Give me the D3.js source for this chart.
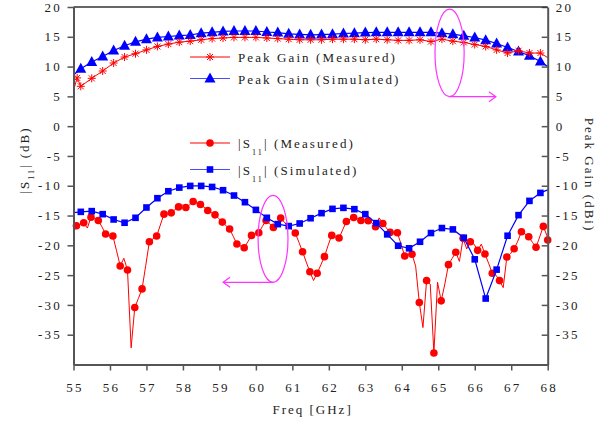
<!DOCTYPE html>
<html>
<head>
<meta charset="utf-8">
<script src="https://cdn.jsdelivr.net/npm/d3@7"></script>
<style>
  body { margin: 0; background: #fff; }
  text { font-family: "Liberation Serif", "Times New Roman", serif; fill: #222; }
</style>
</head>
<body>
<div id="chart"></div>
<script>
// axis ticks
const xTicks = [55, 56, 57, 58, 59, 60, 61, 62, 63, 64, 65, 66, 67, 68];
const yTicks = [20, 15, 10, 5, 0, -5, -10, -15, -20, -25, -30, -35];

// Peak gain, simulated (triangles)
const gainSimFreq = [55.0, 55.2, 55.5, 55.8, 56.1, 56.4, 56.7, 57.0, 57.3, 57.6, 57.9,
  58.2, 58.5, 58.8, 59.1, 59.4, 59.7, 60.0, 60.3, 60.6, 60.9, 61.2, 61.5, 61.8,
  62.1, 62.4, 62.7, 63.0, 63.3, 63.6, 63.9, 64.2, 64.5, 64.8, 65.1, 65.4, 65.7,
  66.0, 66.3, 66.6, 66.9, 67.2, 67.5, 67.8, 68.0];
const gainSim = [8.6, 9.65, 10.77, 11.7, 12.7, 13.5, 14.16, 14.6, 14.9, 15.05, 15.2,
  15.3, 15.6, 15.75, 15.9, 15.97, 15.97, 15.97, 15.8, 15.7, 15.5, 15.4, 15.33, 15.38,
  15.44, 15.55, 15.6, 15.7, 15.75, 15.75, 15.75, 15.75, 15.75, 15.75, 15.6, 15.44, 15.16,
  14.88, 14.44, 13.88, 13.2, 12.54, 11.82, 10.87, 10.0];

// Peak gain, measured (asterisks)
const gainMeasFreq = [55.0, 55.1, 55.2, 55.5, 55.8, 56.1, 56.4, 56.7, 57.0, 57.3, 57.6, 57.9,
  58.2, 58.5, 58.8, 59.1, 59.4, 59.7, 60.0, 60.3, 60.6, 60.9, 61.2, 61.5, 61.8,
  62.1, 62.4, 62.7, 63.0, 63.3, 63.6, 63.9, 64.2, 64.5, 64.8, 65.1, 65.4, 65.7,
  66.0, 66.3, 66.6, 66.9, 67.2, 67.5, 67.8, 68.0];
const gainMeas = [6.0, 8.1, 6.69, 8.03, 9.26, 10.6, 11.6, 12.16, 12.8, 13.38, 13.77, 14.1,
  14.27, 14.5, 14.7, 14.8, 14.9, 14.9, 14.9, 14.8, 14.7, 14.6, 14.5, 14.5, 14.5,
  14.6, 14.6, 14.6, 14.5, 14.6, 14.5, 14.4, 14.4, 14.5, 14.2, 14.6, 14.27, 14.05,
  13.7, 13.38, 12.8, 12.27, 12.66, 12.27, 12.27, 11.5];

// |S11| simulated (squares)
const s11SimFreq = gainSimFreq;
const s11Sim = [-14.5, -14.38, -14.26, -14.77, -15.66, -16.21, -15.38, -13.65, -12.09, -10.92, -10.31,
  -10.03, -10.03, -10.2, -10.75, -11.64, -12.76, -14.05, -15.38, -16.44, -16.77, -16.33, -15.45, -14.6,
  -13.88, -13.71, -13.93, -14.77, -16.27, -18.16, -20.07, -20.5, -19.4, -17.94, -17.1, -17.33, -18.72,
  -22.35, -28.93, -24.08, -18.39, -14.93, -12.54, -11.2, -10.7];

// |S11| measured: points with circles
const s11MeasMarkFreq = [55.08, 55.28, 55.48, 55.68, 55.88, 56.08, 56.28, 56.48, 56.68, 56.88,
  57.08, 57.28, 57.48, 57.68, 57.88, 58.08, 58.28, 58.48, 58.68, 58.88,
  59.08, 59.28, 59.48, 59.68, 59.88, 60.08, 60.28, 60.48, 60.68,
  61.08, 61.28, 61.48, 61.68, 61.88, 62.08, 62.28, 62.48, 62.68, 62.88,
  63.08, 63.28, 63.48, 63.68, 63.88, 64.08, 64.28, 64.48, 64.68, 64.88,
  65.08, 65.28, 65.48, 65.68, 65.88, 66.08, 66.28, 66.48, 66.68, 66.88,
  67.08, 67.28, 67.48, 67.68, 67.88, 68.0];
const s11MeasMark = [-16.72, -16.22, -15.27, -15.82, -18.11, -18.44, -23.46, -24.13, -30.43, -27.31,
  -19.4, -18.44, -14.77, -14.55, -13.55, -13.65, -12.65, -13.14, -14.15, -14.88,
  -16.1, -17.27, -19.78, -20.4, -18.33, -17.89, -15.82, -16.99, -15.43,
  -17.94, -21.07, -24.43, -24.68, -21.9, -18.33, -18.78, -15.99, -15.32, -15.82,
  -15.88, -16.89, -16.33, -17.83, -17.89, -21.79, -21.5, -29.6, -25.92, -38.06,
  -29.32, -23.24, -21.17, -18.83, -19.4, -20.84, -21.45, -24.68, -25.92, -21.96,
  -20.57, -17.73, -18.56, -20.33, -16.82, -19.1];
// |S11| measured: in-between points of the trace (no marker)
const s11MeasLineFreq = [55.0, 55.18, 55.38, 55.58, 55.78, 55.98, 56.18, 56.38, 56.58, 56.78, 56.98,
  57.18, 57.38, 57.58, 57.78, 57.98, 58.18, 58.38, 58.58, 58.78, 58.98,
  59.18, 59.38, 59.58, 59.78, 59.98, 60.18, 60.38, 60.58, 60.78, 60.88, 60.98,
  61.18, 61.38, 61.58, 61.78, 61.98, 62.18, 62.38, 62.58, 62.78, 62.98,
  63.18, 63.38, 63.58, 63.78, 63.98, 64.18, 64.38, 64.58, 64.78, 64.98,
  65.18, 65.38, 65.58, 65.78, 65.98, 66.18, 66.38, 66.58, 66.78, 66.98,
  67.18, 67.38, 67.58, 67.78, 67.98];
const s11MeasLine = [-17.8, -16.5, -17.1, -15.5, -16.9, -18.3, -20.9, -22.18, -37.2, -28.9, -23.4,
  -18.9, -16.6, -14.6, -14.0, -13.2, -13.2, -12.9, -13.6, -14.5, -15.5,
  -16.7, -18.5, -20.1, -19.4, -18.1, -16.8, -16.4, -16.2, -16.1, -16.8, -17.3,
  -19.5, -22.8, -25.9, -23.3, -20.0, -18.6, -17.4, -15.6, -15.5, -15.7,
  -16.2, -15.4, -17.1, -17.9, -19.8, -21.6, -23.5, -33.8, -26.5, -26.2,
  -26.5, -22.2, -22.7, -20.6, -19.8, -19.8, -23.0, -25.0, -27.1, -21.4,
  -19.3, -18.1, -19.5, -18.6, -18.4];

const margin = { top: 7, right: 63.3, bottom: 59.5, left: 73.5 };
const width = 611 - margin.left - margin.right;
const height = 424 - margin.top - margin.bottom;

const RED = "#ff0000";
const BLUE = "#0000ff";
const MAGENTA = "#ff33ff";

const svg = d3.select("#chart")
  .append("svg")
  .attr("width", 611)
  .attr("height", 424)
  .append("g")
  .attr("transform", `translate(${margin.left},${margin.top})`);

const xScale = d3.scaleLinear().domain([55, 68]).range([0, width]);
const yScale = d3.scaleLinear().domain([-40, 20]).range([height, 0]);

const zip = (fs, vs) => fs.map((f, i) => ({ f, v: vs[i] }));
const gainSimData = zip(gainSimFreq, gainSim);
const gainMeasData = zip(gainMeasFreq, gainMeas);
const s11SimData = zip(s11SimFreq, s11Sim);
const s11MeasMarks = zip(s11MeasMarkFreq, s11MeasMark);
const s11MeasData = s11MeasMarks.concat(zip(s11MeasLineFreq, s11MeasLine))
  .sort((a, b) => a.f - b.f);
// edge points only carry the trace to the axes
const inner = (d) => d.f > 55.05 && d.f < 67.95;

const line = d3.line().x((d) => xScale(d.f)).y((d) => yScale(d.v));

function drawLine(data, color, w) {
  svg.append("path")
    .datum(data)
    .attr("fill", "none")
    .attr("stroke", color)
    .attr("stroke-width", w)
    .attr("d", line);
}

const triPath = "M0,-6L5.5,4L-5.5,4Z";
const starPath = "M-4,0L4,0M0,-4L0,4M-3,-3L3,3M-3,3L3,-3";

function drawTriangles(g, data) {
  g.selectAll(null).data(data).enter().append("path")
    .attr("d", triPath)
    .attr("fill", BLUE)
    .attr("transform", (d) => `translate(${xScale(d.f)},${yScale(d.v)})`);
}
function drawStars(g, data) {
  g.selectAll(null).data(data).enter().append("path")
    .attr("d", starPath)
    .attr("stroke", RED)
    .attr("stroke-width", 1)
    .attr("fill", "none")
    .attr("transform", (d) => `translate(${xScale(d.f)},${yScale(d.v)})`);
}

// peak gain
drawLine(gainSimData, BLUE, 1.2);
drawTriangles(svg.append("g"), gainSimData.filter(inner));
drawLine(gainMeasData, RED, 1);
drawStars(svg.append("g"), gainMeasData.filter(inner));

// |S11|
drawLine(s11MeasData, RED, 1);
svg.append("g").selectAll("circle")
  .data(s11MeasMarks)
  .enter()
  .append("circle")
  .attr("cx", (d) => xScale(d.f))
  .attr("cy", (d) => yScale(d.v))
  .attr("r", 3.8)
  .attr("fill", RED);

drawLine(s11SimData, BLUE, 1.2);
svg.append("g").selectAll("rect")
  .data(s11SimData.filter(inner))
  .enter()
  .append("rect")
  .attr("x", (d) => xScale(d.f) - 3.3)
  .attr("y", (d) => yScale(d.v) - 3.3)
  .attr("width", 6.6)
  .attr("height", 6.6)
  .attr("fill", BLUE);

// annotations (ellipse + arrow), in data units
const notes = [
  { cf: 65.31, cv: 12.3, rf: 0.4, rv: 7.35, toF: 66.58, dir: 1 },
  { cf: 60.47, cv: -18.9, rf: 0.41, rv: 7.3, toF: 59.1, dir: -1 },
];
notes.forEach((n) => {
  const cx = xScale(n.cf), cy = yScale(n.cv);
  const rx = xScale(n.cf + n.rf) - cx, ry = yScale(n.cv - n.rv) - cy;
  svg.append("ellipse")
    .attr("cx", cx).attr("cy", cy).attr("rx", rx).attr("ry", ry)
    .attr("fill", "none").attr("stroke", MAGENTA).attr("stroke-width", 1.2);
  const by = cy + ry;
  const tx = xScale(n.toF);
  svg.append("path")
    .attr("d", `M${cx},${by}L${tx},${by}M${tx - n.dir * 7},${by - 5}L${tx},${by}L${tx - n.dir * 7},${by + 5}`)
    .attr("fill", "none").attr("stroke", MAGENTA).attr("stroke-width", 1.2);
});

// axes
const fmt = (d) => String(d);
const styleAxis = (g) => {
  g.select(".domain").attr("stroke", "#555").attr("stroke-width", 2);
  g.selectAll(".tick line").attr("stroke", "#555").attr("stroke-width", 1.5);
  g.selectAll("text")
    .style("font-family", '"Liberation Serif", serif')
    .style("font-size", "13px")
    .style("letter-spacing", "2.2px")
    .attr("fill", "#222");
};

svg.append("g")
  .attr("transform", `translate(0,${height})`)
  .call(d3.axisBottom(xScale).tickValues(xTicks).tickFormat(fmt).tickSize(6).tickSizeOuter(0))
  .call(styleAxis)
  .selectAll("text")
  .attr("y", 27)
  .attr("dy", 0)
  .attr("dx", 1);

svg.append("g")
  .call(d3.axisLeft(yScale).tickValues(yTicks).tickFormat(fmt).tickSize(6).tickSizeOuter(0))
  .call(styleAxis)
  .selectAll("text")
  .attr("x", -11.5);

svg.append("g")
  .attr("transform", `translate(${width},0)`)
  .call(d3.axisRight(yScale).tickValues(yTicks).tickFormat(fmt).tickSize(-6).tickSizeOuter(0))
  .call(styleAxis)
  .selectAll("text")
  .attr("x", 8);

svg.append("line")
  .attr("x1", 0).attr("x2", width).attr("y1", 0).attr("y2", 0)
  .attr("stroke", "#333").attr("stroke-width", 1.3);

// axis titles
svg.append("text")
  .attr("x", width / 2 + 2)
  .attr("y", height + 49)
  .attr("text-anchor", "middle")
  .style("font-size", "13px")
  .style("letter-spacing", "2px")
  .text("Freq [GHz]");

const yLab = svg.append("text")
  .attr("transform", `translate(${29 - margin.left},${160 - margin.top}) rotate(-90)`)
  .attr("text-anchor", "middle")
  .style("font-size", "13px")
  .style("letter-spacing", "2px");
yLab.append("tspan").text("|S");
yLab.append("tspan").attr("dy", 5).style("font-size", "8px").text("11");
yLab.append("tspan").attr("dy", -5).text("| (dB)");

svg.append("text")
  .attr("transform", `translate(${585 - margin.left},${175 - margin.top}) rotate(90)`)
  .attr("text-anchor", "middle")
  .style("font-size", "13px")
  .style("letter-spacing", "2px")
  .text("Peak Gain (dBi)");

// legends
const legendItems = [
  { y: 57, color: RED, mark: "star", label: ["Peak Gain (Measured)"] },
  { y: 78.5, color: BLUE, mark: "tri", label: ["Peak Gain (Simulated)"] },
  { y: 143, color: RED, mark: "circle", label: ["|S", "11", "| (Measured)"] },
  { y: 169.5, color: BLUE, mark: "square", label: ["|S", "11", "| (Simulated)"] },
];
const legend = svg.append("g").attr("transform", `translate(${-margin.left},${-margin.top})`);
legendItems.forEach((it) => {
  const g = legend.append("g").attr("transform", `translate(0,${it.y})`);
  g.append("line")
    .attr("x1", 190).attr("x2", 230)
    .attr("stroke", it.color).attr("stroke-width", 1.2)
    .attr("stroke-opacity", it.color === BLUE ? 0.7 : 1);
  if (it.mark === "star") {
    g.append("path").attr("d", starPath).attr("transform", "translate(210,0)")
      .attr("stroke", RED).attr("fill", "none");
  } else if (it.mark === "tri") {
    g.append("path").attr("d", triPath).attr("transform", "translate(210,0)").attr("fill", BLUE);
  } else if (it.mark === "circle") {
    g.append("circle").attr("cx", 210).attr("r", 3.8).attr("fill", RED);
  } else {
    g.append("rect").attr("x", 206.7).attr("y", -3.3).attr("width", 6.6).attr("height", 6.6).attr("fill", BLUE);
  }
  const t = g.append("text")
    .attr("x", 238).attr("y", 5)
    .style("font-size", "13px")
    .style("letter-spacing", "2.1px");
  if (it.label.length === 1) {
    t.text(it.label[0]);
  } else {
    t.append("tspan").text(it.label[0]);
    t.append("tspan").attr("dy", 7).style("font-size", "8px").text(it.label[1]);
    t.append("tspan").attr("dy", -7).text(it.label[2]);
  }
});
</script>
</body>
</html>
